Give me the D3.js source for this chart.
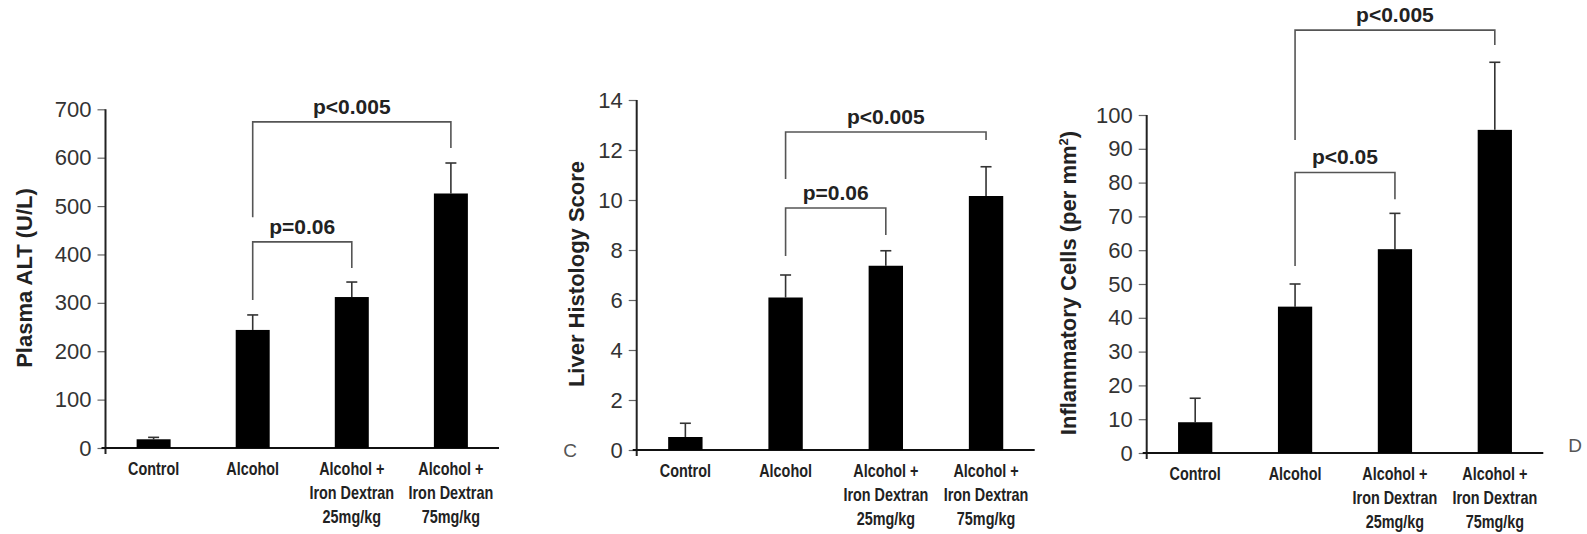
<!DOCTYPE html>
<html>
  <head>
    <script src="https://d3js.org/d3.v7.min.js" charset="utf-8"></script>
    <style>
      body { margin: 0; background: #fff; }
    </style>
  </head>
  <body>
    <svg id="fig" width="1587" height="534"></svg>
    <script>
      // groups on the x axis (one entry per text line)
      var categories = ["Control", "Alcohol", "Alcohol + 25", "Alcohol + 75"];
      var categoryLines = [
        ["Control"],
        ["Alcohol"],
        ["Alcohol +", "Iron Dextran", "25mg/kg"],
        ["Alcohol +", "Iron Dextran", "75mg/kg"]
      ];

      // panel A: plasma ALT
      var altMean = [18, 244, 312, 526];
      var altSem = [4, 31, 31, 63];
      var altTicks = [0, 100, 200, 300, 400, 500, 600, 700];

      // panel C: liver histology score
      var histMean = [0.52, 6.1, 7.37, 10.16];
      var histSem = [0.55, 0.9, 0.6, 1.17];
      var histTicks = [0, 2, 4, 6, 8, 10, 12, 14];

      // panel D: inflammatory cells
      var cellMean = [9.1, 43.3, 60.3, 95.6];
      var cellSem = [7.1, 6.7, 10.6, 20];
      var cellTicks = [0, 10, 20, 30, 40, 50, 60, 70, 80, 90, 100];

      // significance brackets: from/to group, level and drop ends in data units
      var altBrackets = [
        {from: 1, to: 3, level: 674, leftEnd: 477, rightEnd: 620, label: "p<0.005"},
        {from: 1, to: 2, level: 426, leftEnd: 306, rightEnd: 372, label: "p=0.06"}
      ];
      var histBrackets = [
        {from: 1, to: 3, level: 12.72, leftEnd: 10.84, rightEnd: 12.4, label: "p<0.005"},
        {from: 1, to: 2, level: 9.68, leftEnd: 7.76, rightEnd: 8.6, label: "p=0.06"}
      ];
      var cellBrackets = [
        {from: 1, to: 3, level: 125.1, leftEnd: 92.6, rightEnd: 120.7, label: "p<0.005"},
        {from: 1, to: 2, level: 83.0, leftEnd: 55.3, rightEnd: 75.1, label: "p<0.05"}
      ];

      var svg = d3.select("#fig");
      var sans = "'Liberation Sans', Arial, Helvetica, sans-serif";

      function drawPanel(p) {
        var g = svg.append("g");
        var yMax = p.ticks[p.ticks.length - 1];

        var x = d3.scaleBand().domain(categories)
          .range([p.left, p.left + p.width])
          .paddingInner(0.657).paddingOuter(0.314);
        var y = d3.scaleLinear().domain([0, yMax]).range([p.bottom, p.top]);
        var cx = d => x(d) + x.bandwidth() / 2;

        // y axis ticks and labels
        var yAxis = d3.axisLeft(y).tickValues(p.ticks).tickSize(8).tickPadding(6)
          .tickFormat(d3.format("d"));
        var ya = g.append("g").attr("transform", `translate(${p.left},0)`).call(yAxis);
        ya.select(".domain").remove();
        ya.selectAll(".tick line").attr("stroke", "#666").attr("stroke-width", 1.2);
        ya.selectAll(".tick text")
          .attr("font-family", sans).attr("font-size", 22)
          .attr("fill", "#333");

        // axis lines
        g.append("line")
          .attr("x1", p.left).attr("x2", p.left)
          .attr("y1", y(yMax)).attr("y2", y(0) + 6)
          .attr("stroke", "#222").attr("stroke-width", 2);
        g.append("line")
          .attr("x1", p.left - 4).attr("x2", p.left + p.width)
          .attr("y1", y(0)).attr("y2", y(0))
          .attr("stroke", "#111").attr("stroke-width", 2.2);

        // error bars (upper only)
        var eb = g.selectAll(".err").data(p.mean).enter().append("g");
        eb.append("line")
          .attr("x1", (d, i) => cx(categories[i]))
          .attr("x2", (d, i) => cx(categories[i]))
          .attr("y1", d => y(d))
          .attr("y2", (d, i) => y(d + p.sem[i]))
          .attr("stroke", "#333").attr("stroke-width", 1.6);
        eb.append("line")
          .attr("x1", (d, i) => cx(categories[i]) - 5.5)
          .attr("x2", (d, i) => cx(categories[i]) + 5.5)
          .attr("y1", (d, i) => y(d + p.sem[i]))
          .attr("y2", (d, i) => y(d + p.sem[i]))
          .attr("stroke", "#333").attr("stroke-width", 1.6);

        // bars
        g.selectAll(".bar").data(p.mean).enter().append("rect")
          .attr("x", (d, i) => x(categories[i]))
          .attr("y", d => y(d))
          .attr("width", x.bandwidth())
          .attr("height", d => y(0) - y(d))
          .attr("fill", "#000");

        // category labels, squeezed to mimic a condensed face
        var cl = g.selectAll(".cat").data(categories).enter().append("g")
          .attr("transform", d => `translate(${cx(d)},${y(0) + 27}) scale(0.8,1)`)
          .append("text")
          .attr("text-anchor", "middle")
          .attr("font-family", sans).attr("font-weight", "bold")
          .attr("font-size", 18).attr("fill", "#222");
        cl.selectAll("tspan").data((d, i) => categoryLines[i]).enter().append("tspan")
          .attr("x", 0)
          .attr("dy", (d, j) => j === 0 ? 0 : 24)
          .text(d => d);

        // significance brackets
        p.brackets.forEach(function(b) {
          var xl = cx(categories[b.from]);
          var xr = cx(categories[b.to]);
          g.append("path")
            .attr("d", d3.line()([[xl, y(b.leftEnd)], [xl, y(b.level)], [xr, y(b.level)], [xr, y(b.rightEnd)]]))
            .attr("fill", "none").attr("stroke", "#555").attr("stroke-width", 1.6);
          g.append("text")
            .attr("x", (xl + xr) / 2).attr("y", y(b.level) - 8)
            .attr("text-anchor", "middle")
            .attr("font-family", sans).attr("font-weight", "bold")
            .attr("font-size", 21).attr("fill", "#222")
            .text(b.label);
        });

        // y title
        var t = g.append("text")
          .attr("transform", `translate(${p.titleX},${p.titleY}) rotate(-90)`)
          .attr("text-anchor", "middle")
          .attr("font-family", sans).attr("font-weight", "bold")
          .attr("font-size", 22).attr("fill", "#222");
        t.append("tspan").text(p.title);
        if (p.sup) {
          t.append("tspan").attr("dy", -8).attr("font-size", 13).text(p.sup);
          t.append("tspan").attr("dy", 8).text(")");
        }
        return g;
      }

      drawPanel({
        mean: altMean, sem: altSem, ticks: altTicks, brackets: altBrackets,
        left: 105.5, width: 393.5, top: 109.3, bottom: 448,
        title: "Plasma ALT (U/L)", titleX: 32, titleY: 278
      });
      drawPanel({
        mean: histMean, sem: histSem, ticks: histTicks, brackets: histBrackets,
        left: 636.7, width: 398, top: 100, bottom: 450,
        title: "Liver Histology Score", titleX: 584, titleY: 274
      });
      drawPanel({
        mean: cellMean, sem: cellSem, ticks: cellTicks, brackets: cellBrackets,
        left: 1146.7, width: 396.6, top: 115, bottom: 453,
        title: "Inflammatory Cells (per mm", sup: "2", titleX: 1076, titleY: 283
      });

      // panel letters
      svg.append("text").attr("x", 570).attr("y", 457).attr("text-anchor", "middle")
        .attr("font-family", sans).attr("font-size", 19).attr("fill", "#555").text("C");
      svg.append("text").attr("x", 1575).attr("y", 452).attr("text-anchor", "middle")
        .attr("font-family", sans).attr("font-size", 19).attr("fill", "#555").text("D");
    </script>
  </body>
</html>
